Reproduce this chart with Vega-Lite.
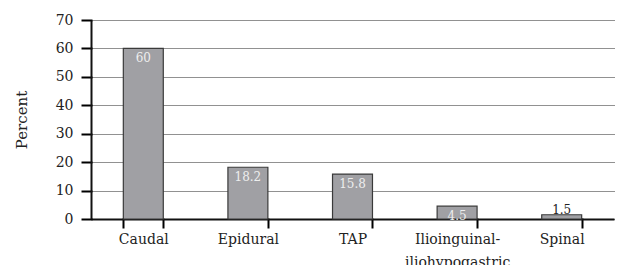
{
  "$schema": "https://vega.github.io/schema/vega-lite/v6.json",
  "width": 523,
  "height": 199,
  "autosize": {"type": "none"},
  "padding": {"left": 91, "top": 20, "right": 6, "bottom": 46},
  "background": "white",
  "config": {
    "view": {"stroke": null},
    "font": "DejaVu Serif",
    "axisX": {"ticks": true, "tickSize": 8, "tickCap": "square", "tickDash": []},
    "axisY": {"ticks": true, "tickSize": 9, "tickCap": "square", "tickDash": []}
  },
  "data": {
    "values": [
      {"block": "Caudal", "percent": 60},
      {"block": "Epidural", "percent": 18.2},
      {"block": "TAP", "percent": 15.8},
      {"block": "Ilioinguinal-iliohypogastric", "percent": 4.5},
      {"block": "Spinal", "percent": 1.5}
    ]
  },
  "encoding": {
    "x": {
      "field": "block",
      "type": "nominal",
      "sort": null,
      "scale": {"paddingInner": 0.618, "paddingOuter": 0.309},
      "axis": {
        "title": null,
        "labelAngle": 0,
        "labelFont": "DejaVu Serif",
        "labelFontSize": 14,
        "labelColor": "#222",
        "labelPadding": 5,
        "labelLineHeight": 23,
        "labelExpr": "datum.label == 'Ilioinguinal-iliohypogastric' ? ['Ilioinguinal-', 'iliohypogastric'] : datum.label",
        "tickBand": "extent",
        "tickColor": "#000000",
        "tickWidth": 2,
        "domainColor": "#111",
        "domainWidth": 2,
        "grid": false
      }
    },
    "y": {
      "field": "percent",
      "type": "quantitative",
      "scale": {"domain": [0, 70], "nice": false},
      "axis": {
        "title": "Percent",
        "titleFont": "DejaVu Serif",
        "titleFontSize": 15,
        "titleFontWeight": "normal",
        "titleColor": "#222",
        "titlePadding": 26,
        "tickCount": 7,
        "labelFont": "DejaVu Serif",
        "labelFontSize": 14,
        "labelColor": "#222",
        "labelPadding": 9,
        "tickColor": "#000000",
        "tickWidth": 2,
        "domainColor": "#111",
        "domainWidth": 2,
        "grid": true,
        "gridColor": "#222",
        "gridDash": [1, 1],
        "gridWidth": 1
      }
    }
  },
  "layer": [
    {
      "mark": {"type": "bar", "fill": "#a0a0a4", "stroke": "#3a3a3a", "strokeWidth": 1.2}
    },
    {
      "transform": [{"filter": "datum.percent >= 3"}],
      "mark": {"type": "text", "baseline": "middle", "dy": 10, "fontSize": 12, "font": "DejaVu Serif", "color": "#eeeeee"},
      "encoding": {"text": {"field": "percent", "type": "quantitative"}}
    },
    {
      "transform": [{"filter": "datum.percent < 3"}],
      "mark": {"type": "text", "baseline": "alphabetic", "dy": -1, "fontSize": 12, "font": "DejaVu Serif", "color": "#222"},
      "encoding": {"text": {"field": "percent", "type": "quantitative"}}
    }
  ]
}
